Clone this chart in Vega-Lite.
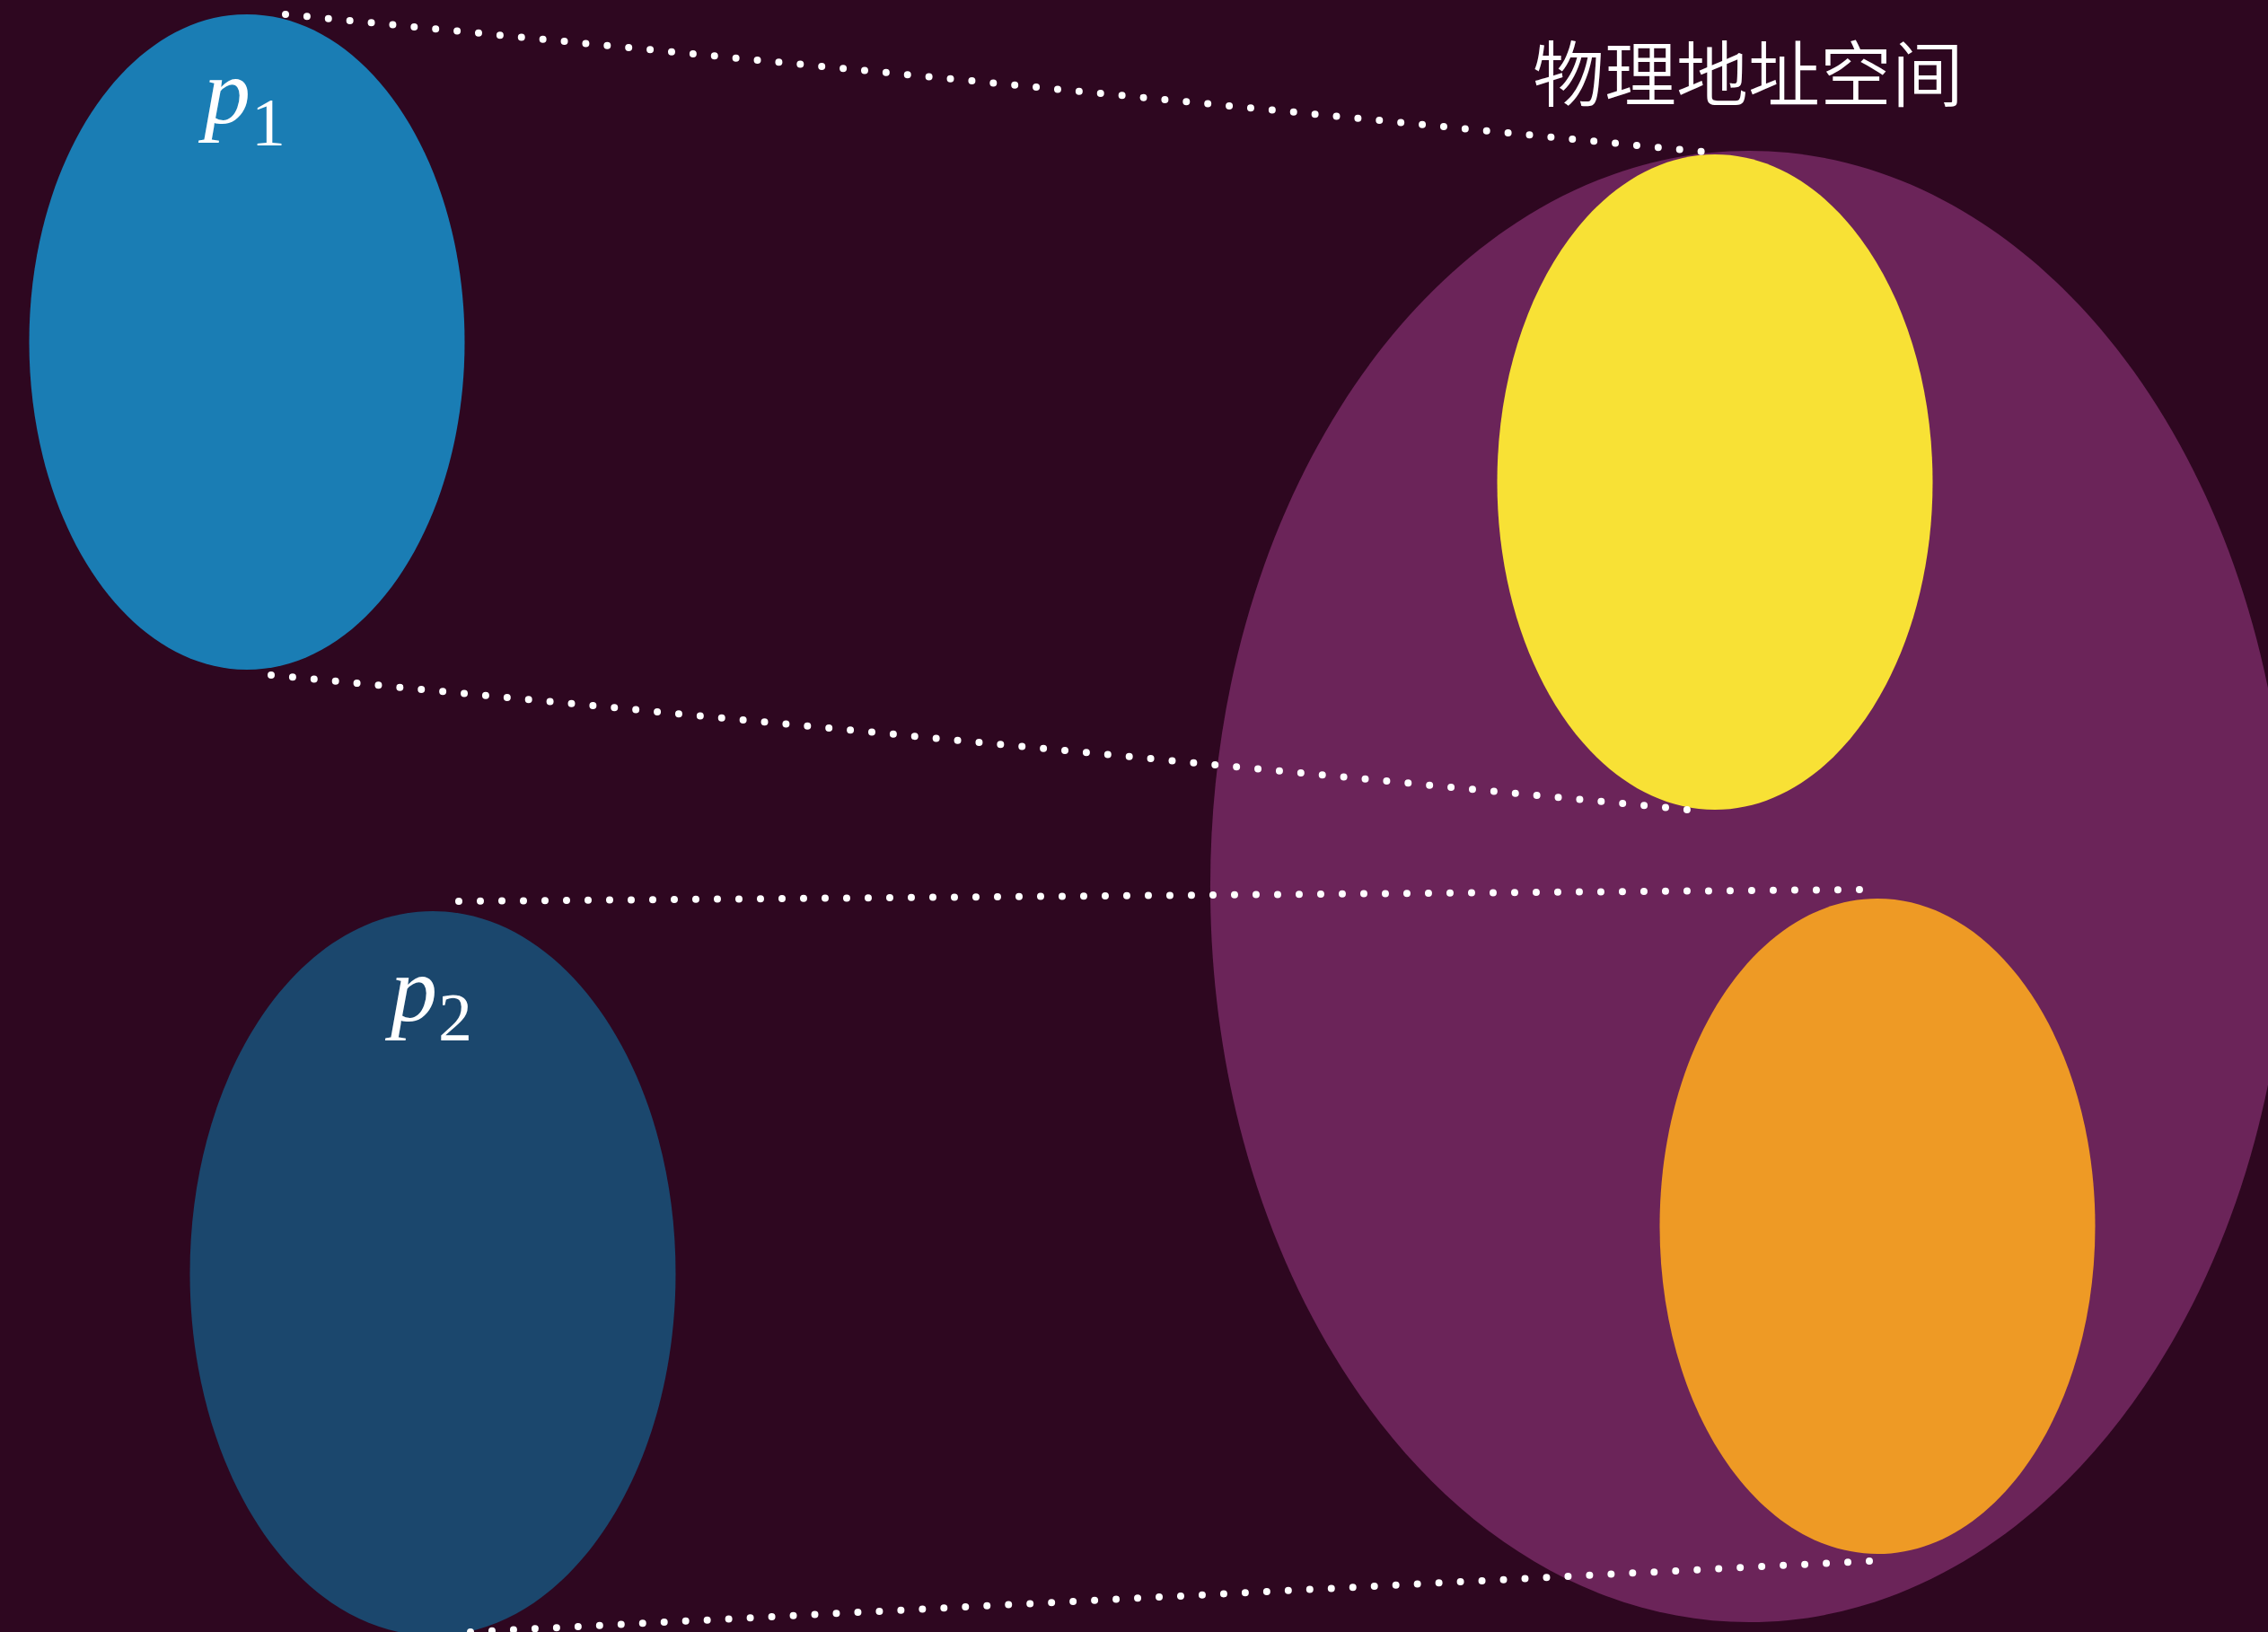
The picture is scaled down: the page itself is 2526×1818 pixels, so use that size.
{
  "$schema": "https://vega.github.io/schema/vega-lite/v6.json",
  "width": 2526,
  "height": 1818,
  "autosize": {"type": "none"},
  "padding": 0,
  "background": "#2E0720",
  "config": {"view": {"stroke": null}},
  "datasets": {
    "ellipses": [
      {"name": "memory", "x": 1948, "y": 987.5},
      {"name": "frameA", "x": 1910, "y": 537},
      {"name": "frameB", "x": 2091, "y": 1366},
      {"name": "p1", "x": 275, "y": 381},
      {"name": "p2", "x": 482, "y": 1418.5}
    ],
    "links": [
      {"x1": 318, "y1": 16, "x2": 1896, "y2": 169},
      {"x1": 302, "y1": 752, "x2": 1880, "y2": 902},
      {"x1": 511, "y1": 1004, "x2": 2071, "y2": 991},
      {"x1": 524, "y1": 1818, "x2": 2082, "y2": 1739}
    ],
    "labels": [
      {"t": "p", "x": 253, "y": 137, "kind": "main"},
      {"t": "1", "x": 299, "y": 162, "kind": "sub"},
      {"t": "p", "x": 461, "y": 1137, "kind": "main"},
      {"t": "2", "x": 507, "y": 1159, "kind": "sub"},
      {"t": "物理地址空间", "x": 1947, "y": 112, "kind": "title"}
    ]
  },
  "layer": [
    {
      "data": {"name": "ellipses"},
      "transform": [{"filter": "datum.name === 'memory'"}],
      "mark": {"type": "point", "filled": true, "opacity": 1, "color": "#6B2459", "strokeWidth": 0, "size": 2686321,
        "shape": "M 0 -1 C 0.4044 -1 0.7322 -0.5523 0.7322 0 C 0.7322 0.5523 0.4044 1 0 1 C -0.4044 1 -0.7322 0.5523 -0.7322 0 C -0.7322 -0.5523 -0.4044 -1 0 -1 Z"},
      "encoding": {
        "x": {"field": "x", "type": "quantitative", "scale": {"domain": [0, 2526], "nice": false, "zero": false}, "axis": null},
        "y": {"field": "y", "type": "quantitative", "scale": {"domain": [0, 1818], "nice": false, "zero": false, "reverse": true}, "axis": null}
      }
    },
    {
      "data": {"name": "ellipses"},
      "transform": [{"filter": "datum.name === 'frameA'"}],
      "mark": {"type": "point", "filled": true, "opacity": 1, "color": "#F8E135", "strokeWidth": 0, "size": 532900,
        "shape": "M 0 -1 C 0.3669 -1 0.6644 -0.5523 0.6644 0 C 0.6644 0.5523 0.3669 1 0 1 C -0.3669 1 -0.6644 0.5523 -0.6644 0 C -0.6644 -0.5523 -0.3669 -1 0 -1 Z"},
      "encoding": {
        "x": {"field": "x", "type": "quantitative"},
        "y": {"field": "y", "type": "quantitative"}
      }
    },
    {
      "data": {"name": "ellipses"},
      "transform": [{"filter": "datum.name === 'frameB'"}],
      "mark": {"type": "point", "filled": true, "opacity": 1, "color": "#EE9A25", "strokeWidth": 0, "size": 532900,
        "shape": "M 0 -1 C 0.3669 -1 0.6644 -0.5523 0.6644 0 C 0.6644 0.5523 0.3669 1 0 1 C -0.3669 1 -0.6644 0.5523 -0.6644 0 C -0.6644 -0.5523 -0.3669 -1 0 -1 Z"},
      "encoding": {
        "x": {"field": "x", "type": "quantitative"},
        "y": {"field": "y", "type": "quantitative"}
      }
    },
    {
      "data": {"name": "ellipses"},
      "transform": [{"filter": "datum.name === 'p1'"}],
      "mark": {"type": "point", "filled": true, "opacity": 1, "color": "#1A7DB4", "strokeWidth": 0, "size": 532900,
        "shape": "M 0 -1 C 0.3669 -1 0.6644 -0.5523 0.6644 0 C 0.6644 0.5523 0.3669 1 0 1 C -0.3669 1 -0.6644 0.5523 -0.6644 0 C -0.6644 -0.5523 -0.3669 -1 0 -1 Z"},
      "encoding": {
        "x": {"field": "x", "type": "quantitative"},
        "y": {"field": "y", "type": "quantitative"}
      }
    },
    {
      "data": {"name": "ellipses"},
      "transform": [{"filter": "datum.name === 'p2'"}],
      "mark": {"type": "point", "filled": true, "opacity": 1, "color": "#1B476D", "strokeWidth": 0, "size": 651249,
        "shape": "M 0 -1 C 0.3703 -1 0.6704 -0.5523 0.6704 0 C 0.6704 0.5523 0.3703 1 0 1 C -0.3703 1 -0.6704 0.5523 -0.6704 0 C -0.6704 -0.5523 -0.3703 -1 0 -1 Z"},
      "encoding": {
        "x": {"field": "x", "type": "quantitative"},
        "y": {"field": "y", "type": "quantitative"}
      }
    },
    {
      "data": {"name": "links"},
      "mark": {"type": "rule", "color": "#FFFFFF", "strokeWidth": 8, "strokeCap": "round", "strokeDash": [0, 24]},
      "encoding": {
        "x": {"field": "x1", "type": "quantitative"},
        "y": {"field": "y1", "type": "quantitative"},
        "x2": {"field": "x2"},
        "y2": {"field": "y2"}
      }
    },
    {
      "data": {"name": "labels"},
      "transform": [{"filter": "datum.kind === 'main'"}],
      "mark": {"type": "text", "font": "Liberation Serif", "fontStyle": "italic", "fontSize": 104, "color": "#FFFFFF", "align": "center", "baseline": "alphabetic"},
      "encoding": {
        "x": {"field": "x", "type": "quantitative"},
        "y": {"field": "y", "type": "quantitative"},
        "text": {"field": "t"}
      }
    },
    {
      "data": {"name": "labels"},
      "transform": [{"filter": "datum.kind === 'sub'"}],
      "mark": {"type": "text", "font": "Liberation Serif", "fontSize": 76, "color": "#FFFFFF", "align": "center", "baseline": "alphabetic"},
      "encoding": {
        "x": {"field": "x", "type": "quantitative"},
        "y": {"field": "y", "type": "quantitative"},
        "text": {"field": "t"}
      }
    },
    {
      "data": {"name": "labels"},
      "transform": [{"filter": "datum.kind === 'title'"}],
      "mark": {"type": "text", "font": "Noto Sans CJK SC", "fontWeight": 350, "fontSize": 80, "color": "#FFFFFF", "align": "center", "baseline": "alphabetic"},
      "encoding": {
        "x": {"field": "x", "type": "quantitative"},
        "y": {"field": "y", "type": "quantitative"},
        "text": {"field": "t"}
      }
    }
  ]
}
